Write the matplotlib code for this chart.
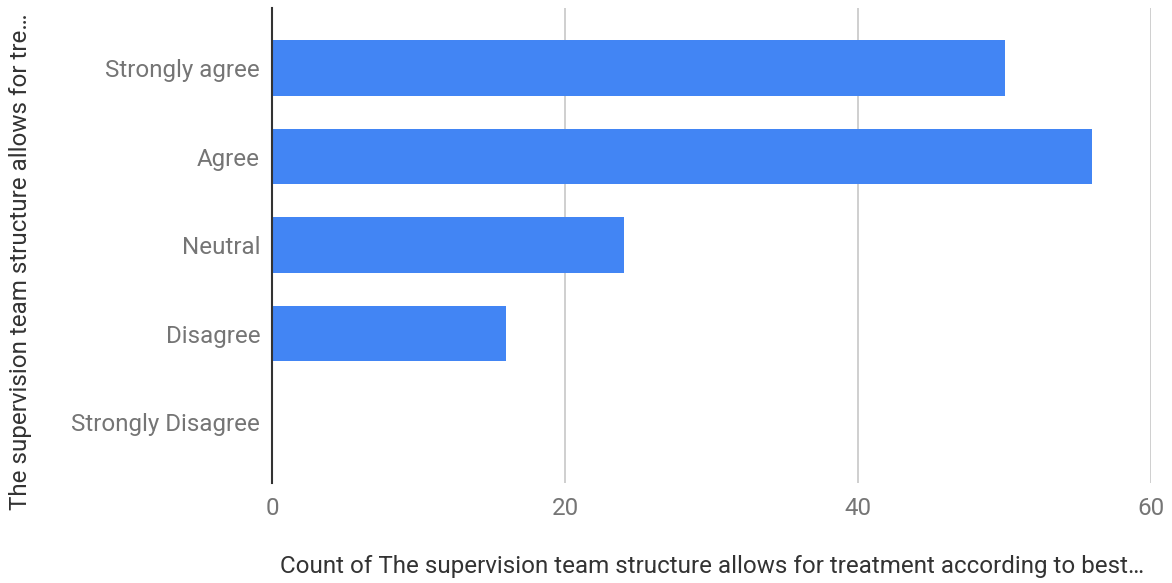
import matplotlib
matplotlib.use("Agg")
import matplotlib.pyplot as plt

# survey answers and counts
categories = ["Strongly agree", "Agree", "Neutral", "Disagree", "Strongly Disagree"]
counts = [50, 56, 24, 16, 0]
x_ticks = [0, 20, 40, 60]

x_title = "Count of The supervision team structure allows for treatment according to best\u2026"
y_title = "The supervision team structure allows for tre\u2026"

plt.rcParams["font.family"] = ["Roboto", "DejaVu Sans"]

fig = plt.figure(figsize=(11.72, 5.83), dpi=100)
ax = fig.add_axes([272 / 1172, 1 - 483 / 583, (1151 - 272) / 1172, (483 - 8) / 583])

pos = list(range(len(categories)))
ax.barh(pos, counts, height=0.63, color="#4285F4", zorder=3)

ax.set_xlim(0, 60)
ax.set_ylim(len(categories) - 1 + 0.69, -0.68)
ax.set_xticks(x_ticks)
ax.set_yticks(pos)
ax.set_yticklabels(categories)
ax.tick_params(axis="both", length=0, labelsize=17.4, labelcolor="#757575")
ax.tick_params(axis="x", pad=10)
ax.tick_params(axis="y", pad=8.5)

ax.grid(axis="x", color="#cccccc", linewidth=1.3, zorder=0)
for s in ["top", "right", "bottom"]:
    ax.spines[s].set_visible(False)
ax.spines["left"].set_color("#333333")
ax.spines["left"].set_linewidth(1.5)
ax.spines["left"].set_zorder(4)

fig.text(712 / 1172, 1 - 567 / 583, x_title, ha="center", va="center", fontsize=17.4, color="#333333")
fig.text(21 / 1172, 1 - 262 / 583, y_title, ha="center", va="center", rotation=90, fontsize=17.4, color="#333333")

fig.savefig("out.png", dpi=100, facecolor="white")
